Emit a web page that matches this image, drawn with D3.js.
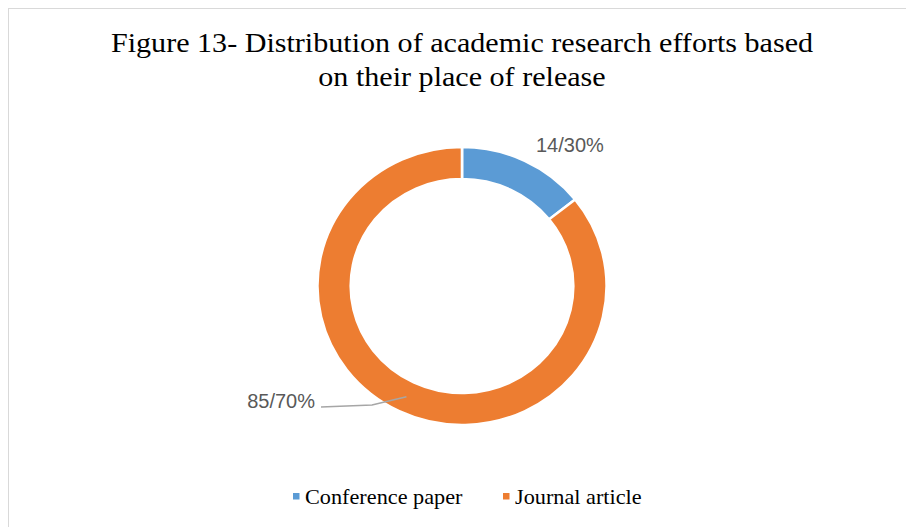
<!DOCTYPE html>
<html><head><meta charset="utf-8">
<script src="https://cdn.jsdelivr.net/npm/d3@7"></script>
<style>body{margin:0;background:#fff}</style>
</head><body>
<svg id="c" width="906" height="527"></svg>
<script>
const categories = ["Conference paper", "Journal article"];
const values = [14.3, 85.7];
const valueLabels = ["14/30%", "85/70%"];
const colors = ["#5b9bd5", "#ed7d31"];
const titleLines = ["Figure 13- Distribution of academic research efforts based", "on their place of release"];

const svg = d3.select("#c");
svg.append("rect").attr("x", 8.5).attr("y", 8.5).attr("width", 930).attr("height", 540)
  .attr("fill", "#fff").attr("stroke", "#d9d9d9").attr("stroke-width", 1);

svg.append("g").attr("transform", "translate(462,0) scale(1.115,1)")
  .selectAll("text").data(titleLines).join("text")
  .attr("x", 0).attr("y", (d, i) => 52 + i * 34)
  .attr("text-anchor", "middle")
  .attr("font-family", "Liberation Serif, Times New Roman, serif")
  .attr("font-size", 27).attr("fill", "#000").text(d => d);

const cx = 462, cy = 286, sx = 1.04;
const outerR = 139, innerR = 107;
const pie = d3.pie().sort(null).value(d => d)(values);
const arc = d3.arc().innerRadius(innerR).outerRadius(outerR);
const g = svg.append("g").attr("transform", `translate(${cx},${cy}) scale(${sx},1)`);
g.selectAll("path").data(pie).join("path")
  .attr("d", arc).attr("fill", (d, i) => colors[i])
  .attr("stroke", "#fff").attr("stroke-width", 2.5);

// labels
const lbl = svg.append("g").attr("font-family", "Liberation Sans, Arial, sans-serif")
  .attr("font-size", 20).attr("fill", "#595959");
lbl.append("text").attr("x", 536).attr("y", 152).text(valueLabels[0]);
lbl.append("text").attr("x", 315).attr("y", 408).attr("text-anchor", "end").text(valueLabels[1]);
// leader line from label to the centroid of the orange ring
const c = arc.centroid(pie[1]);
const ex = cx + c[0] * sx, ey = cy + c[1];
svg.append("path").attr("d", `M321,407 L372,405 L${ex},${ey}`)
  .attr("stroke", "#a6a6a6").attr("stroke-width", 1.6).attr("fill", "none");

// legend
const legX = [293, 503];
const leg = svg.append("g").selectAll("g").data(categories).join("g")
  .attr("transform", (d, i) => `translate(${legX[i]},0)`);
leg.append("rect").attr("x", 0).attr("y", 493).attr("width", 6.5).attr("height", 6.5)
  .attr("fill", (d, i) => colors[i]);
leg.append("text").attr("transform", "translate(12,504) scale(1.06,1)")
  .attr("font-family", "Liberation Serif, Times New Roman, serif")
  .attr("font-size", 21).attr("fill", "#000").text(d => d);
</script>
</body></html>
